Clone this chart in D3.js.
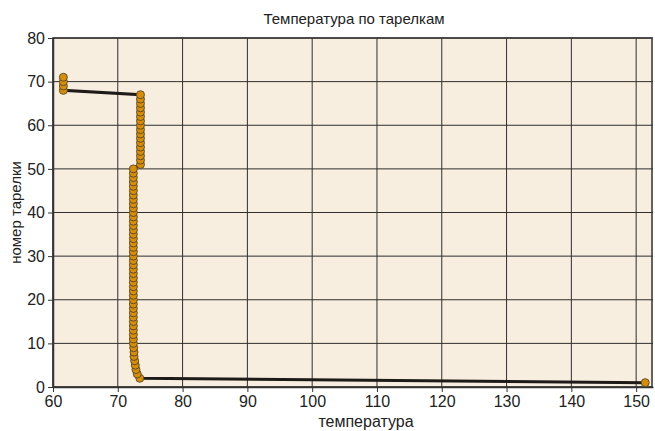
<!DOCTYPE html>
<html><head><meta charset="utf-8">
<script src="https://cdn.jsdelivr.net/npm/d3@7"></script>
<style>body{margin:0;background:#fff;}svg{display:block;font-family:"Liberation Sans",Arial,sans-serif;}</style>
</head><body><svg id="c" width="655" height="431"></svg>
<script>
const title = "Температура по тарелкам";
const xLabel = "температура";
const yLabel = "номер тарелки";
const xTicks = [60,70,80,90,100,110,120,130,140,150];
const yTicks = [0,10,20,30,40,50,60,70,80];
const plates = [1,2,3,4,5,6,7,8,9,10,11,12,13,14,15,16,17,18,19,20,21,22,23,24,25,26,27,28,29,30,31,32,33,34,35,36,37,38,39,40,41,42,43,44,45,46,47,48,49,50,51,52,53,54,55,56,57,58,59,60,61,62,63,64,65,66,67,68,69,70,71];
const temps = [151.4,73.4,73.0,72.8,72.7,72.6,72.5,72.5,72.45,72.4,
  72.4,72.4,72.4,72.4,72.4,72.4,72.4,72.4,72.4,72.4,
  72.4,72.4,72.4,72.4,72.4,72.4,72.4,72.4,72.4,72.4,
  72.4,72.4,72.4,72.4,72.4,72.4,72.4,72.4,72.4,72.4,
  72.4,72.4,72.4,72.4,72.4,72.4,72.4,72.4,72.4,72.4,
  73.5,73.5,73.5,73.5,73.5,73.5,73.5,73.5,73.5,73.5,
  73.5,73.5,73.5,73.5,73.5,73.5,73.5,
  61.6,61.6,61.6,61.6];

const svg = d3.select("#c");
const W = 655, H = 431;
const m = {l:53, r:2, t:38, b:44};
const x = d3.scaleLinear().domain([60,152.6]).range([m.l, W-m.r]);
const y = d3.scaleLinear().domain([0,80]).range([H-m.b, m.t]);

svg.append("rect").attr("x",m.l).attr("y",m.t).attr("width",W-m.r-m.l).attr("height",H-m.b-m.t).attr("fill","#f8eee0");

const g = svg.append("g");
g.selectAll("line.vx").data(xTicks).join("line").attr("class","vx")
  .attr("x1",d=>x(d)).attr("x2",d=>x(d)).attr("y1",m.t).attr("y2",H-m.b)
  .attr("stroke","#2e2e2e").attr("stroke-width",1);
g.selectAll("line.hy").data(yTicks).join("line").attr("class","hy")
  .attr("y1",d=>y(d)).attr("y2",d=>y(d)).attr("x1",m.l).attr("x2",W-m.r)
  .attr("stroke","#2e2e2e").attr("stroke-width",1);

svg.append("rect").attr("x",m.l).attr("y",m.t).attr("width",W-m.r-m.l-1).attr("height",H-m.b-m.t)
  .attr("fill","none").attr("stroke","#333").attr("stroke-width",1.5);

const xAxis = svg.append("g").attr("transform",`translate(0,${H-m.b})`)
  .call(d3.axisBottom(x).tickValues(xTicks).tickSize(5).tickPadding(4).tickSizeOuter(0));
const yAxis = svg.append("g").attr("transform",`translate(${m.l},0)`)
  .call(d3.axisLeft(y).tickValues(yTicks).tickSize(5).tickPadding(3).tickSizeOuter(0));
[xAxis,yAxis].forEach(a=>{
  a.select(".domain").attr("stroke","#333").attr("stroke-width",1.5);
  a.selectAll(".tick line").attr("stroke","#333");
  a.selectAll("text").attr("font-size",16).attr("fill","#222").attr("font-family","Liberation Sans, Arial, sans-serif");
});

const pts = plates.map((p,i)=>({p, t:temps[i]}));
svg.append("path").datum(pts)
  .attr("d", d3.line().x(d=>x(d.t)).y(d=>y(d.p)))
  .attr("fill","none").attr("stroke","#1e1a18").attr("stroke-width",3);
svg.selectAll("circle.pt").data(pts).join("circle").attr("class","pt")
  .attr("cx",d=>x(d.t)).attr("cy",d=>y(d.p)).attr("r",4)
  .attr("fill","#d48e0c").attr("stroke","#5a4526").attr("stroke-width",0.9);

svg.append("text").attr("x",354).attr("y",24).attr("text-anchor","middle")
  .attr("font-size",15).attr("fill","#222").text(title);
svg.append("text").attr("x",366).attr("y",427).attr("text-anchor","middle")
  .attr("font-size",16).attr("fill","#222").text(xLabel);
svg.append("text").attr("transform",`translate(21,${(m.t+H-m.b)/2}) rotate(-90)`).attr("text-anchor","middle")
  .attr("font-size",15).attr("fill","#222").text(yLabel);
</script></body></html>
